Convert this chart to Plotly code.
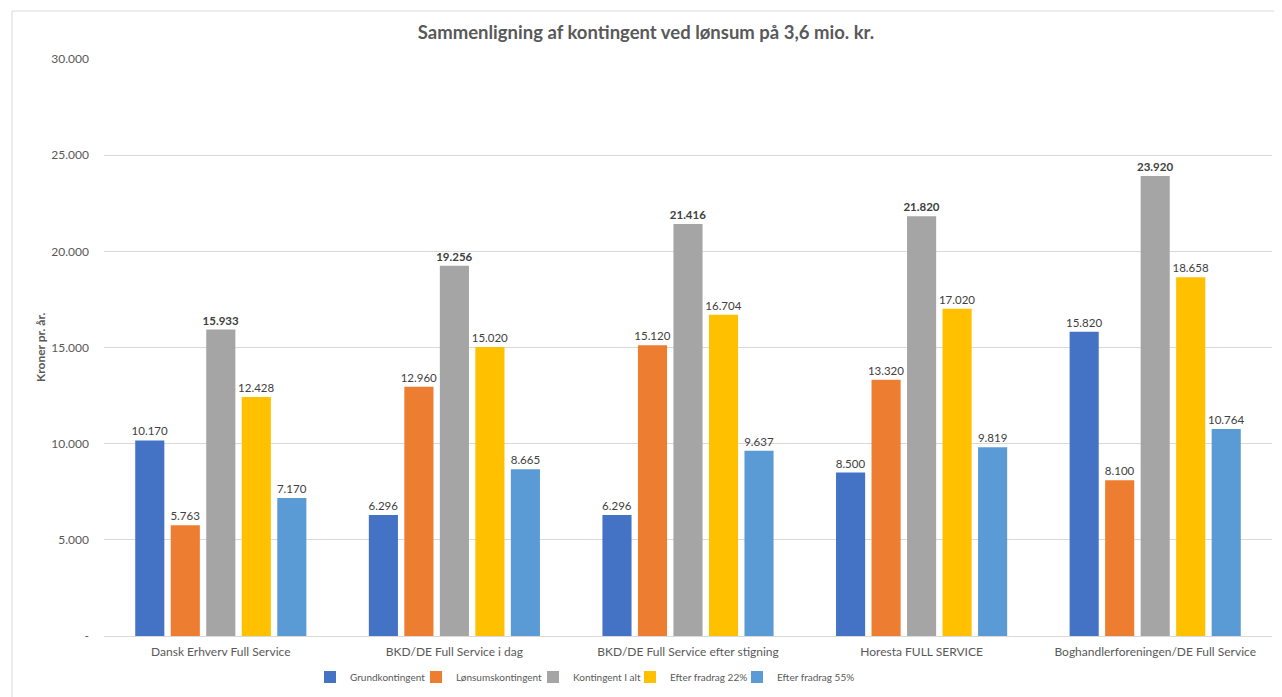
import plotly.graph_objects as go

categories = ["Dansk Erhverv Full Service", "BKD/DE Full Service i dag",
              "BKD/DE Full Service efter stigning", "Horesta FULL SERVICE",
              "Boghandlerforeningen/DE Full Service"]
series_names = ["Grundkontingent", "Lønsumskontingent", "Kontingent I alt",
                "Efter fradrag 22%", "Efter fradrag 55%"]
grund = [10170, 6296, 6296, 8500, 15820]
lonsum = [5763, 12960, 15120, 13320, 8100]
ialt = [15933, 19256, 21416, 21820, 23920]
fradrag22 = [12428, 15020, 16704, 17020, 18658]
fradrag55 = [7170, 8665, 9637, 9819, 10764]
colors = ["#4472C4", "#ED7D31", "#A5A5A5", "#FFC000", "#5B9BD5"]
bold_series = [False, False, True, False, False]
y_ticks = [0, 5000, 10000, 15000, 20000, 25000, 30000]

def fmt(v):
    return f"{v:,}".replace(",", ".")

FONT = "Lato"
OFF = 8  # default page body margin
W, H = 1282 - OFF, 697 - OFF
# plot area in screen pixels: x 104..1272, y 59..636
L, R, T, B = 104 - OFF, 1282 - 1272, 59 - OFF, 697 - 636
PW, PH = W - L - R, H - T - B

def px(sx):  # screen x -> paper x
    return (sx - OFF - L) / PW

def py(sy):  # screen y -> paper y
    return (H - B - (sy - OFF)) / PH

# screen x where each legend entry's text begins
legend_text_x = [350, 456, 573, 670, 777]
legend_keys = ["legend", "legend2", "legend3", "legend4", "legend5"]

fig = go.Figure()
for name, vals, col, b, lk in zip(series_names, [grund, lonsum, ialt, fradrag22, fradrag55],
                                  colors, bold_series, legend_keys):
    labels = [f"<b>{fmt(v)}</b>" if b else fmt(v) for v in vals]
    fig.add_trace(go.Bar(
        name=name, x=categories, y=vals, marker=dict(color=col, line=dict(width=0)),
        text=labels, textposition="outside", cliponaxis=False, constraintext="none",
        textfont=dict(family=FONT, size=11.5, color="#404040"), legend=lk,
    ))

legends = {}
for lk, tx in zip(legend_keys, legend_text_x):
    legends[lk] = dict(orientation="h", x=px(tx - 40), xanchor="left",
                       y=1 - (677 - OFF) / H, yref="container", yanchor="middle",
                       font=dict(family=FONT, size=10, color="#595959"),
                       itemwidth=30, bgcolor="rgba(0,0,0,0)")

fig.update_layout(
    width=W, height=H,
    paper_bgcolor="white", plot_bgcolor="white",
    barmode="group", bargap=0.24, bargroupgap=0.18,
    margin=dict(l=L, r=R, t=T, b=B, autoexpand=False),
    font=dict(family=FONT, color="#595959"),
    title=dict(text="<b>Sammenligning af kontingent ved lønsum på 3,6 mio. kr.</b>",
               x=(646 - OFF) / W, xref="container", xanchor="center",
               y=1 - (33 - OFF) / H, yref="container", yanchor="middle",
               font=dict(family=FONT, size=18.5, color="#595959")),
    showlegend=True,
    **legends,
)
fig.update_yaxes(range=[0, 30000], tickvals=y_ticks,
                 ticktext=["-" if v == 0 else fmt(v) for v in y_ticks],
                 showgrid=True, gridcolor="#D9D9D9", gridwidth=1, automargin=False,
                 zeroline=False, showline=False, ticks="", ticklabelstandoff=14,
                 tickfont=dict(family=FONT, size=12, color="#595959"))
fig.update_xaxes(showgrid=False, showline=True, linecolor="#D9D9D9", linewidth=1,
                 ticks="", ticklabelstandoff=5, automargin=False,
                 tickfont=dict(family=FONT, size=12, color="#595959"))

fig.add_annotation(text="<b>Kroner pr. år.</b>", textangle=-90,
                   xref="paper", yref="paper", x=px(40), y=py(348),
                   xanchor="center", yanchor="middle", showarrow=False,
                   font=dict(family=FONT, size=12, color="#595959"))

# chart frame (spreadsheet embed)
fig.add_shape(type="rect", xref="paper", yref="paper",
              x0=px(12), x1=px(1295), y0=py(710), y1=py(11),
              line=dict(color="#D9D9D9", width=1), layer="below")

fig.write_html("out.html")
